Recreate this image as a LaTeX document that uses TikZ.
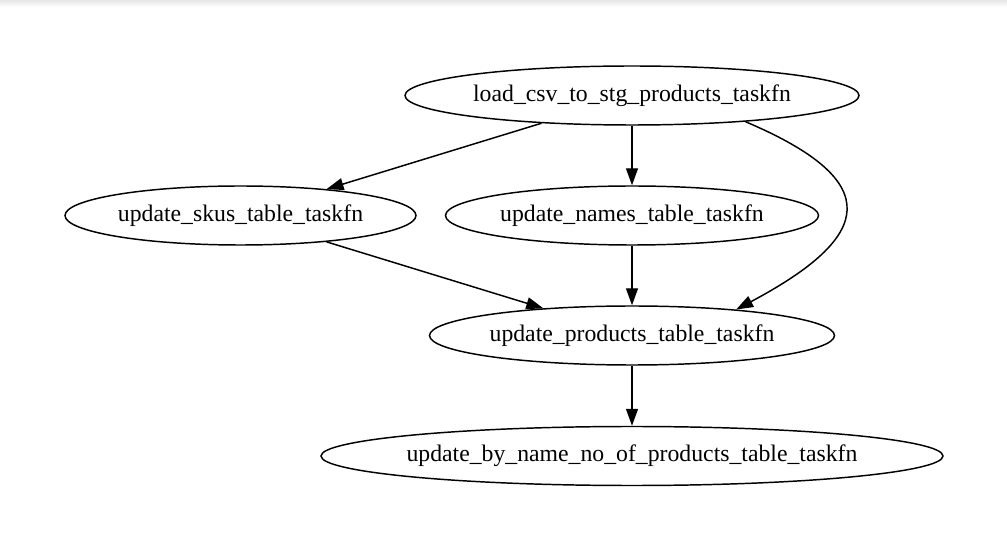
\documentclass[tikz,border=0pt]{standalone}
\usepackage{fontspec}
\setmainfont{Liberation Serif}
\usetikzlibrary{shapes.geometric, arrows.meta}
\begin{document}
\begin{tikzpicture}[
    x=0.75pt, y=-0.75pt,
    font=\fontsize{17.8}{20}\selectfont,
    tk/.style={draw, ellipse, line width=1.1pt, inner xsep=-6pt, inner ysep=0pt, minimum height=44.25pt},
    fl/.style={line width=1.1pt, -{Triangle[length=12.75pt, width=9pt]}},
  ]
  \useasboundingbox (0,0) rectangle (1007,541);

  % --- leggera ombra sul bordo superiore ---
  \shade[top color=black!10, bottom color=white] (0,0) rectangle (1007,7);

  % --- i task ---
  \node[tk, minimum width=340.5pt] (load) at (632,95.5) {load\_csv\_to\_stg\_products\_taskfn};
  \node[tk, minimum width=263.25pt] (skus) at (240.5,215.5) {update\_skus\_table\_taskfn};
  \node[tk, minimum width=279.75pt] (names) at (632,215.5) {update\_names\_table\_taskfn};
  \node[tk, minimum width=303.75pt] (prod) at (632,335.5) {update\_products\_table\_taskfn};
  \node[tk, minimum width=466.5pt] (byname) at (632,456) {update\_by\_name\_no\_of\_products\_table\_taskfn};

  % --- dipendenze ---
  \draw[fl] (load) -- (skus);
  \draw[fl] (load) -- (names);
  \draw[fl] (load.-13) to[out=-23, in=28, looseness=2.1] (prod.14);
  \draw[fl] (skus) -- (prod);
  \draw[fl] (names) -- (prod);
  \draw[fl] (prod) -- (byname);

\end{tikzpicture}
\end{document}
